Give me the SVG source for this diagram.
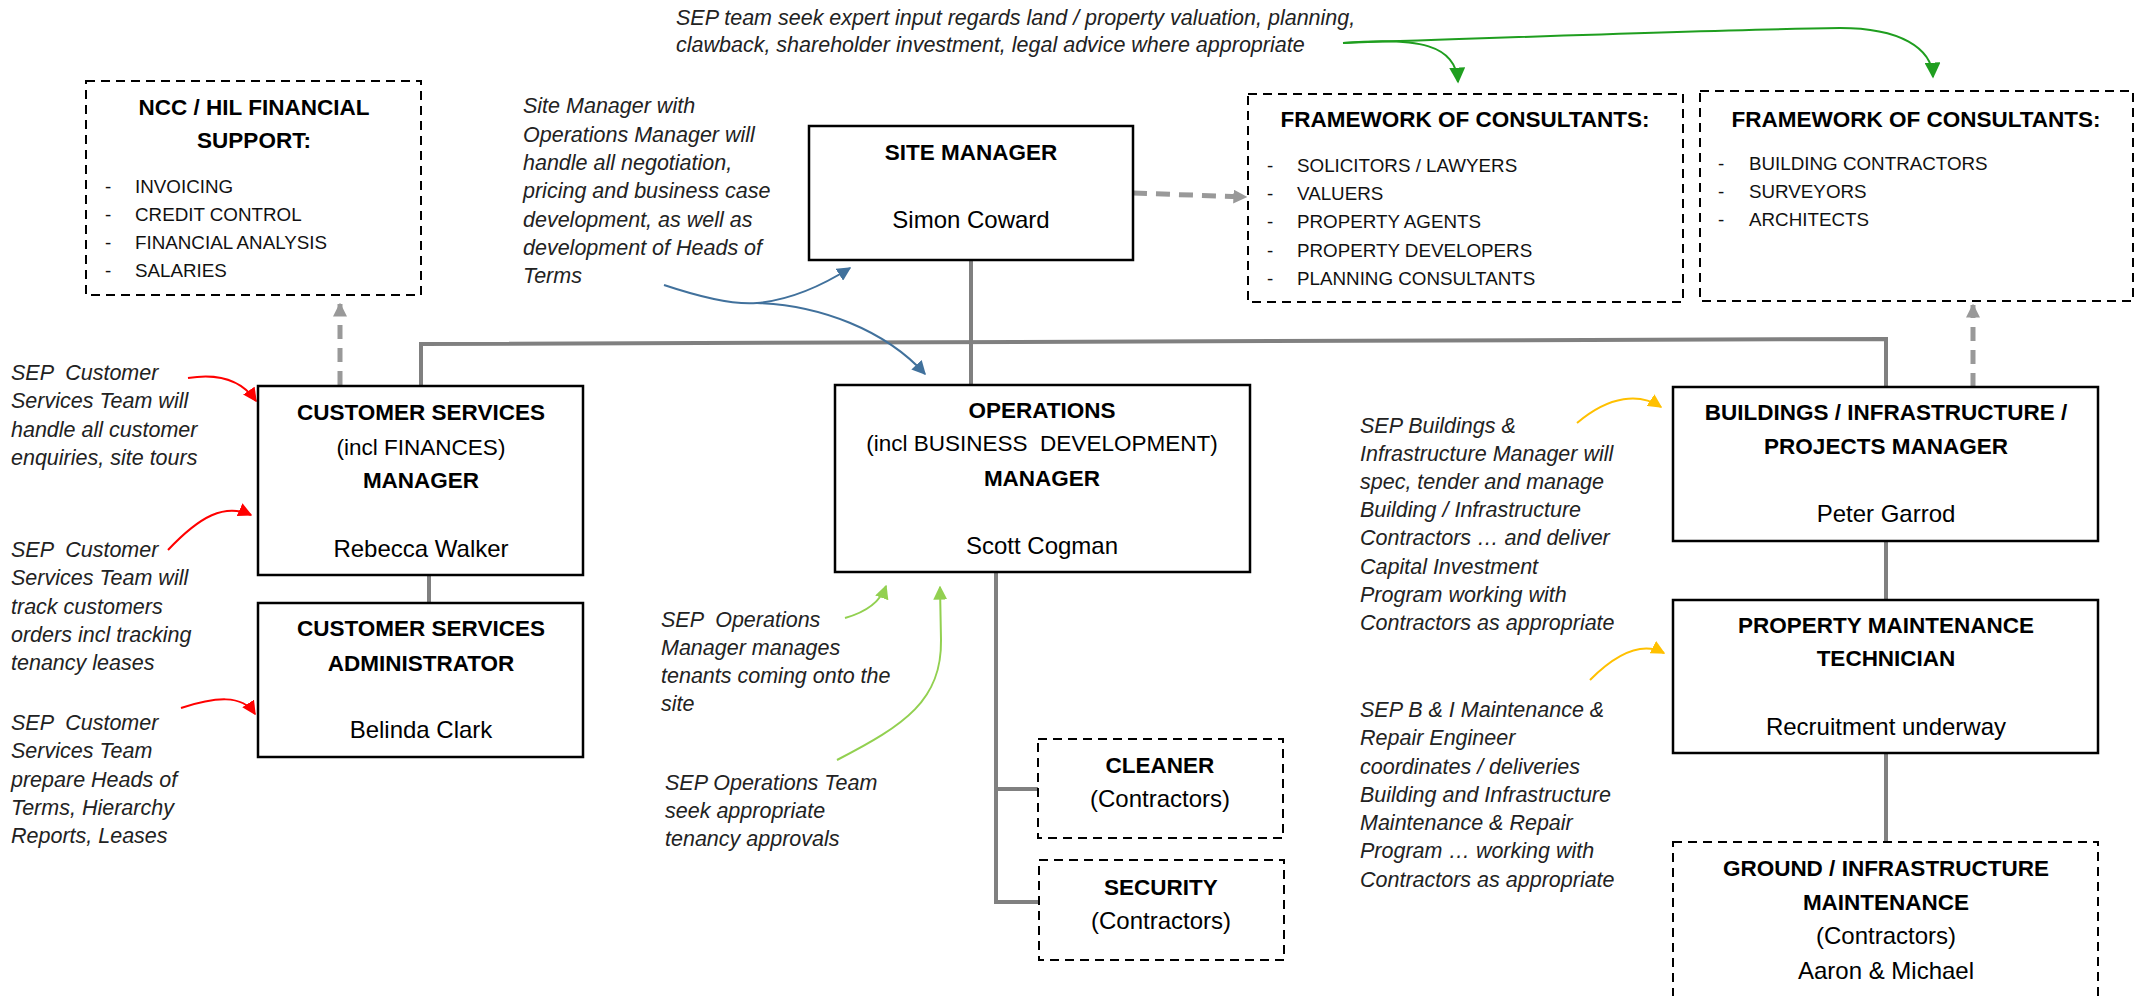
<svg xmlns="http://www.w3.org/2000/svg" width="2139" height="996" viewBox="0 0 2139 996">
<style>
.box{fill:#fff;stroke:#000;stroke-width:2.5}
.dbox{fill:#fff;stroke:#000;stroke-width:2;stroke-dasharray:9 6}
.t{font-family:"Liberation Sans",Arial,sans-serif;fill:#000;text-anchor:middle;white-space:pre}
.b{font-weight:bold;font-size:22.5px}
.r{font-size:22.5px}
.n{font-size:24px}
.li{font-family:"Liberation Sans",Arial,sans-serif;font-size:18.8px;fill:#111}
.note{font-family:"Liberation Sans",Arial,sans-serif;font-style:italic;font-size:21.5px;fill:#222;white-space:pre}
.conn{fill:none;stroke:#808080;stroke-width:4}
.dash{fill:none;stroke:#999;stroke-width:5;stroke-dasharray:14 9}
.ann{fill:none;stroke-width:2}
</style>
<defs>
<marker id="mGrey" markerUnits="userSpaceOnUse" markerWidth="14" markerHeight="14" viewBox="0 0 10 10" refX="9" refY="5" orient="auto"><path d="M0,0 L10,5 L0,10 z" fill="#999"/></marker>
<marker id="mRed" markerUnits="userSpaceOnUse" markerWidth="14" markerHeight="14" viewBox="0 0 10 10" refX="9" refY="5" orient="auto"><path d="M0,0 L10,5 L0,10 z" fill="#ff0000"/></marker>
<marker id="mGreen" markerUnits="userSpaceOnUse" markerWidth="16" markerHeight="16" viewBox="0 0 10 10" refX="9" refY="5" orient="auto"><path d="M0,0 L10,5 L0,10 z" fill="#1f9e1f"/></marker>
<marker id="mBlue" markerUnits="userSpaceOnUse" markerWidth="14" markerHeight="14" viewBox="0 0 10 10" refX="9" refY="5" orient="auto"><path d="M0,0 L10,5 L0,10 z" fill="#41719c"/></marker>
<marker id="mLime" markerUnits="userSpaceOnUse" markerWidth="14" markerHeight="14" viewBox="0 0 10 10" refX="9" refY="5" orient="auto"><path d="M0,0 L10,5 L0,10 z" fill="#92d050"/></marker>
<marker id="mYel" markerUnits="userSpaceOnUse" markerWidth="14" markerHeight="14" viewBox="0 0 10 10" refX="9" refY="5" orient="auto"><path d="M0,0 L10,5 L0,10 z" fill="#ffc000"/></marker>
</defs>

<g id="connectors">
<path class="conn" d="M971,260 V385"/>
<path class="conn" d="M421,386 V344 L1886,339 V387"/>
<path class="conn" d="M429,575 V603"/>
<path class="conn" d="M996,572 V902 H1039 M996,789 H1038"/>
<path class="conn" d="M1886,541 V600 M1886,753 V842"/>
<path class="dash" d="M340,385 V304" marker-end="url(#mGrey)"/>
<path class="dash" d="M1133,193 L1246,197" marker-end="url(#mGrey)"/>
<path class="dash" d="M1973,387 V305" marker-end="url(#mGrey)"/>
<path class="ann" stroke="#1f9e1f" d="M1343,43 C1420,37 1456,45 1458,82" marker-end="url(#mGreen)"/>
<path class="ann" stroke="#1f9e1f" d="M1343,43 C1500,38 1700,30 1840,28 C1900,28 1932,48 1933,77" marker-end="url(#mGreen)"/>
<path class="ann" stroke="#41719c" d="M664,285 C700,297 735,305 757,303 C790,300 820,287 850,268" marker-end="url(#mBlue)"/>
<path class="ann" stroke="#41719c" d="M757,303 C820,305 885,330 925,374" marker-end="url(#mBlue)"/>
<path class="ann" stroke="#ff0000" d="M188,378 C225,372 245,385 256,401" marker-end="url(#mRed)"/>
<path class="ann" stroke="#ff0000" d="M168,550 C200,516 225,503 251,515" marker-end="url(#mRed)"/>
<path class="ann" stroke="#ff0000" d="M181,708 C215,697 242,694 255,714" marker-end="url(#mRed)"/>
<path class="ann" stroke="#92d050" d="M845,618 C870,611 881,600 886,586" marker-end="url(#mLime)"/>
<path class="ann" stroke="#92d050" d="M837,760 C905,725 942,700 941,640 L940,587" marker-end="url(#mLime)"/>
<path class="ann" stroke="#ffc000" d="M1577,423 C1610,395 1640,393 1661,407" marker-end="url(#mYel)"/>
<path class="ann" stroke="#ffc000" d="M1590,680 C1620,650 1645,643 1664,653" marker-end="url(#mYel)"/>
</g>

<g id="ncc-financial-support">
<rect class="dbox" x="86" y="81" width="335" height="214"/>
<text class="t b" x="254" y="115">NCC / HIL FINANCIAL</text>
<text class="t b" x="254" y="148">SUPPORT:</text>
<g class="li">
<text x="105" y="193">-</text><text x="135" y="193">INVOICING</text>
<text x="105" y="221">-</text><text x="135" y="221">CREDIT CONTROL</text>
<text x="105" y="249">-</text><text x="135" y="249">FINANCIAL ANALYSIS</text>
<text x="105" y="277">-</text><text x="135" y="277">SALARIES</text>
</g>
</g>

<g id="site-manager">
<rect class="box" x="809" y="126" width="324" height="134"/>
<text class="t b" x="971" y="160">SITE MANAGER</text>
<text class="t n" x="971" y="228">Simon Coward</text>
</g>

<g id="framework-1">
<rect class="dbox" x="1248" y="94" width="435" height="208"/>
<text class="t b" x="1465" y="127">FRAMEWORK OF CONSULTANTS:</text>
<g class="li">
<text x="1267" y="172">-</text><text x="1297" y="172">SOLICITORS / LAWYERS</text>
<text x="1267" y="200">-</text><text x="1297" y="200">VALUERS</text>
<text x="1267" y="228">-</text><text x="1297" y="228">PROPERTY AGENTS</text>
<text x="1267" y="257">-</text><text x="1297" y="257">PROPERTY DEVELOPERS</text>
<text x="1267" y="285">-</text><text x="1297" y="285">PLANNING CONSULTANTS</text>
</g>
</g>

<g id="framework-2">
<rect class="dbox" x="1700" y="91" width="433" height="210"/>
<text class="t b" x="1916" y="127">FRAMEWORK OF CONSULTANTS:</text>
<g class="li">
<text x="1718" y="170">-</text><text x="1749" y="170">BUILDING CONTRACTORS</text>
<text x="1718" y="198">-</text><text x="1749" y="198">SURVEYORS</text>
<text x="1718" y="226">-</text><text x="1749" y="226">ARCHITECTS</text>
</g>
</g>

<g id="customer-services-manager">
<rect class="box" x="258" y="386" width="325" height="189"/>
<text class="t b" x="421" y="420">CUSTOMER SERVICES</text>
<text class="t r" x="421" y="455">(incl FINANCES)</text>
<text class="t b" x="421" y="488">MANAGER</text>
<text class="t n" x="421" y="557">Rebecca Walker</text>
</g>

<g id="customer-services-administrator">
<rect class="box" x="258" y="603" width="325" height="154"/>
<text class="t b" x="421" y="636">CUSTOMER SERVICES</text>
<text class="t b" x="421" y="671">ADMINISTRATOR</text>
<text class="t n" x="421" y="738">Belinda Clark</text>
</g>

<g id="operations-manager">
<rect class="box" x="835" y="385" width="415" height="187"/>
<text class="t b" x="1042" y="418">OPERATIONS</text>
<text class="t r" x="1042" y="451">(incl BUSINESS  DEVELOPMENT)</text>
<text class="t b" x="1042" y="486">MANAGER</text>
<text class="t n" x="1042" y="554">Scott Cogman</text>
</g>

<g id="cleaner">
<rect class="dbox" x="1038" y="739" width="245" height="99"/>
<text class="t b" x="1160" y="773">CLEANER</text>
<text class="t n" x="1160" y="807">(Contractors)</text>
</g>

<g id="security">
<rect class="dbox" x="1039" y="860" width="245" height="100"/>
<text class="t b" x="1161" y="895">SECURITY</text>
<text class="t n" x="1161" y="929">(Contractors)</text>
</g>

<g id="buildings-projects-manager">
<rect class="box" x="1673" y="387" width="425" height="154"/>
<text class="t b" x="1886" y="420">BUILDINGS / INFRASTRUCTURE /</text>
<text class="t b" x="1886" y="454">PROJECTS MANAGER</text>
<text class="t n" x="1886" y="522">Peter Garrod</text>
</g>

<g id="property-maintenance-technician">
<rect class="box" x="1673" y="600" width="425" height="153"/>
<text class="t b" x="1886" y="633">PROPERTY MAINTENANCE</text>
<text class="t b" x="1886" y="666">TECHNICIAN</text>
<text class="t n" x="1886" y="735">Recruitment underway</text>
</g>

<g id="ground-infrastructure-maintenance">
<rect class="dbox" x="1673" y="842" width="425" height="170"/>
<text class="t b" x="1886" y="876">GROUND / INFRASTRUCTURE</text>
<text class="t b" x="1886" y="910">MAINTENANCE</text>
<text class="t n" x="1886" y="944">(Contractors)</text>
<text class="t n" x="1886" y="979">Aaron &amp; Michael</text>
</g>

<g id="annotations">
<text class="note" x="676" y="25">SEP team seek expert input regards land / property valuation, planning,</text>
<text class="note" x="676" y="52">clawback, shareholder investment, legal advice where appropriate</text>

<text class="note" x="523" y="113">Site Manager with</text>
<text class="note" x="523" y="142">Operations Manager will</text>
<text class="note" x="523" y="170">handle all negotiation,</text>
<text class="note" x="523" y="198">pricing and business case</text>
<text class="note" x="523" y="227">development, as well as</text>
<text class="note" x="523" y="255">development of Heads of</text>
<text class="note" x="523" y="283">Terms</text>

<text class="note" x="11" y="380">SEP  Customer</text>
<text class="note" x="11" y="408">Services Team will</text>
<text class="note" x="11" y="437">handle all customer</text>
<text class="note" x="11" y="465">enquiries, site tours</text>

<text class="note" x="11" y="557">SEP  Customer</text>
<text class="note" x="11" y="585">Services Team will</text>
<text class="note" x="11" y="614">track customers</text>
<text class="note" x="11" y="642">orders incl tracking</text>
<text class="note" x="11" y="670">tenancy leases</text>

<text class="note" x="11" y="730">SEP  Customer</text>
<text class="note" x="11" y="758">Services Team</text>
<text class="note" x="11" y="787">prepare Heads of</text>
<text class="note" x="11" y="815">Terms, Hierarchy</text>
<text class="note" x="11" y="843">Reports, Leases</text>

<text class="note" x="661" y="627">SEP  Operations</text>
<text class="note" x="661" y="655">Manager manages</text>
<text class="note" x="661" y="683">tenants coming onto the</text>
<text class="note" x="661" y="711">site</text>

<text class="note" x="665" y="790">SEP Operations Team</text>
<text class="note" x="665" y="818">seek appropriate</text>
<text class="note" x="665" y="846">tenancy approvals</text>

<text class="note" x="1360" y="433">SEP Buildings &amp;</text>
<text class="note" x="1360" y="461">Infrastructure Manager will</text>
<text class="note" x="1360" y="489">spec, tender and manage</text>
<text class="note" x="1360" y="517">Building / Infrastructure</text>
<text class="note" x="1360" y="545">Contractors … and deliver</text>
<text class="note" x="1360" y="574">Capital Investment</text>
<text class="note" x="1360" y="602">Program working with</text>
<text class="note" x="1360" y="630">Contractors as appropriate</text>

<text class="note" x="1360" y="717">SEP B &amp; I Maintenance &amp;</text>
<text class="note" x="1360" y="745">Repair Engineer</text>
<text class="note" x="1360" y="774">coordinates / deliveries</text>
<text class="note" x="1360" y="802">Building and Infrastructure</text>
<text class="note" x="1360" y="830">Maintenance &amp; Repair</text>
<text class="note" x="1360" y="858">Program … working with</text>
<text class="note" x="1360" y="887">Contractors as appropriate</text>
</g>
</svg>
